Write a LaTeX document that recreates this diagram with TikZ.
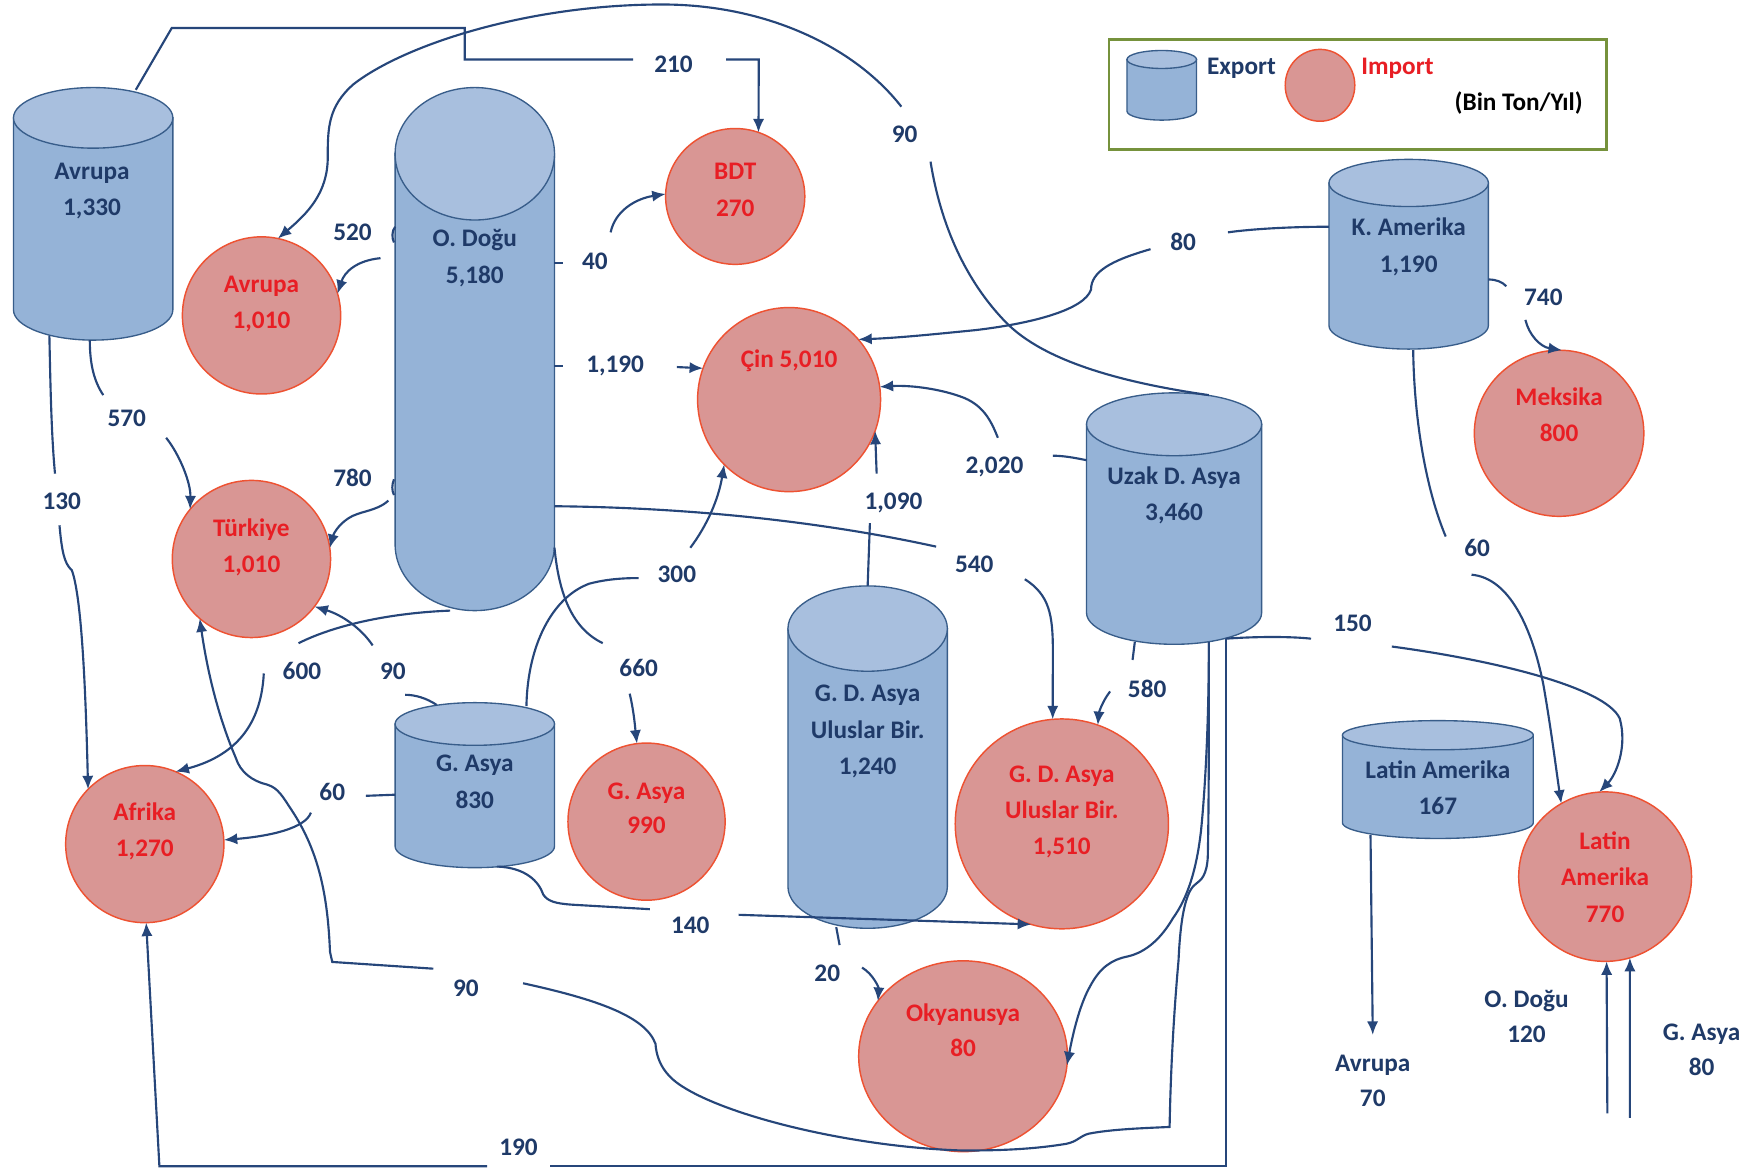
\documentclass[tikz,border=0pt]{standalone}
\usepackage{fontspec}
\setmainfont{Carlito}
\usetikzlibrary{shapes.geometric,arrows.meta,calc}
\definecolor{linec}{RGB}{38,70,122}
\definecolor{navytext}{RGB}{31,58,104}
\definecolor{cylbody}{RGB}{149,179,215}
\definecolor{cyltop}{RGB}{168,191,222}
\definecolor{cylborder}{RGB}{56,93,138}
\definecolor{impfill}{RGB}{217,150,148}
\definecolor{impborder}{RGB}{238,82,50}
\definecolor{imptext}{RGB}{232,30,36}
\definecolor{legborder}{RGB}{118,146,60}
% #1 name, #2 cx, #3 top-ellipse centre y, #4 bottom-ellipse centre y, #5 rx, #6 ry top, #7 ry bottom
\newcommand\excyl[7]{%
  \pgfmathsetmacro\cyXL{#2-#5}%
  \pgfmathsetmacro\cyXR{#2+#5}%
  \pgfmathsetmacro\cyKX{0.5523*#5}%
  \pgfmathsetmacro\cyKY{0.5523*#7}%
  \pgfmathsetmacro\cyYB{#4+#7}%
  \pgfmathsetmacro\cyYT{#3-#6}%
  \pgfmathsetmacro\cyW{2*#5}%
  \pgfmathsetmacro\cyH{\cyYB-\cyYT}%
  \pgfmathsetmacro\cyYM{(\cyYB+\cyYT)/2}%
  \filldraw[cylb] (\cyXL,#3) -- (\cyXL,#4) .. controls (\cyXL,#4+\cyKY) and (#2-\cyKX,\cyYB) .. (#2,\cyYB) .. controls (#2+\cyKX,\cyYB) and (\cyXR,#4+\cyKY) .. (\cyXR,#4) -- (\cyXR,#3) -- cycle;
  \filldraw[cylt] (#2,#3) ellipse [x radius=#5pt, y radius=#6pt];
  \node[inner sep=0pt, outer sep=0pt, minimum width=\cyW pt, minimum height=\cyH pt] (#1) at (#2,\cyYM) {};
}
\begin{document}
\begin{tikzpicture}[x=1pt,y=-1pt,
  cylb/.style={fill=cylbody, draw=cylborder, line width=1.2pt},
  cylt/.style={fill=cyltop, draw=cylborder, line width=1.2pt},
  con/.style={draw=linec, line width=1.9pt},
  arr/.style={con, -{Latex[length=12pt,width=10pt]}},
  imp/.style={ellipse, draw=impborder, line width=1.3pt, fill=impfill, inner sep=0pt, outer sep=0pt},
  lbl/.style={font=\bfseries\fontsize{22.5}{27}\selectfont, text=navytext, anchor=base, inner sep=0pt},
  ilbl/.style={lbl, text=imptext},
  klbl/.style={lbl, text=black},
]
\fill[white] (0,0) rectangle (1568,1041);
\useasboundingbox (0,0) rectangle (1568,1041);

% ---------- legend ----------
\draw[draw=legborder, line width=2.6pt] (988,35) rectangle (1431,133);
\excyl{legE}{1035}{53}{99}{31}{8}{8}
\node[imp, minimum width=62pt, minimum height=64pt] (legI) at (1176,76) {};
\node[lbl] (legEt) at (1106,66) {Export};
\node[ilbl] (legIt) at (1245,66) {Import};
\node[klbl] (legU) at (1353,98) {(Bin Ton/Yıl)};

% ---------- export cylinders ----------
\excyl{avrE}{83}{105}{276}{71}{27}{27}
\excyl{odog}{423}{137}{485}{71}{59}{59}
\excyl{kam}{1255}{163}{290}{71}{21}{21}
\excyl{uzak}{1046}{378}{546}{78}{28}{28}
\excyl{gasE}{423}{645}{754}{71}{19}{19}
\excyl{gdaE}{773}{560}{790}{71}{38}{37}
\excyl{latE}{1281}{655}{733}{85}{13}{14}

\node[lbl] (avrEa) at (82,160) {Avrupa};
\node[lbl] (avrEb) at (82,192) {1,330};
\node[lbl] (odoga) at (423,220) {O. Doğu};
\node[lbl] (odogb) at (423,253) {5,180};
\node[lbl] (kama) at (1255,210) {K. Amerika};
\node[lbl] (kamb) at (1255,243) {1,190};
\node[lbl] (uzaka) at (1046,432) {Uzak D. Asya};
\node[lbl] (uzakb) at (1046,464) {3,460};
\node[lbl] (gasEa) at (423,687) {G. Asya};
\node[lbl] (gasEb) at (423,720) {830};
\node[lbl] (gdaEa) at (773,625) {G. D. Asya};
\node[lbl] (gdaEb) at (773,658) {Uluslar Bir.};
\node[lbl] (gdaEc) at (773,690) {1,240};
\node[lbl] (latEa) at (1281,694) {Latin Amerika};
\node[lbl] (latEb) at (1281,726) {167};

% ---------- import circles ----------
\node[imp, minimum width=124pt, minimum height=121pt] (bdt) at (655,175) {};
\node[imp, minimum width=141pt, minimum height=140pt] (avrI) at (233,281) {};
\node[imp, minimum width=163pt, minimum height=164pt] (cin) at (703,356) {};
\node[imp, minimum width=141pt, minimum height=140pt] (tur) at (224,498) {};
\node[imp, minimum width=151pt, minimum height=148pt] (mek) at (1389,386) {};
\node[imp, minimum width=141pt, minimum height=140pt] (afr) at (129,752) {};
\node[imp, minimum width=140pt, minimum height=140pt] (gasI) at (576,732) {};
\node[imp, minimum width=190pt, minimum height=187pt] (gdaI) at (946,734) {};
\node[imp, minimum width=186pt, minimum height=170pt] (oky) at (858,941) {};
\node[imp, minimum width=154pt, minimum height=151pt] (latI) at (1430,781) {};

\node[ilbl] (bdta) at (655,160) {BDT};
\node[ilbl] (bdtb) at (655,193) {270};
\node[ilbl] (avrIa) at (233,261) {Avrupa};
\node[ilbl] (avrIb) at (233,293) {1,010};
\node[ilbl] (cina) at (703,327) {Çin 5,010};
\node[ilbl] (tura) at (224,478) {Türkiye};
\node[ilbl] (turb) at (224,510) {1,010};
\node[ilbl] (meka) at (1389,361) {Meksika};
\node[ilbl] (mekb) at (1389,393) {800};
\node[ilbl] (afra) at (129,731) {Afrika};
\node[ilbl] (afrb) at (129,763) {1,270};
\node[ilbl] (gasIa) at (576,712) {G. Asya};
\node[ilbl] (gasIb) at (576,743) {990};
\node[ilbl] (gdaIa) at (946,697) {G. D. Asya};
\node[ilbl] (gdaIb) at (946,729) {Uluslar Bir.};
\node[ilbl] (gdaIc) at (946,761) {1,510};
\node[ilbl] (okya) at (858,910) {Okyanusya};
\node[ilbl] (okyb) at (858,941) {80};
\node[ilbl] (latIa) at (1430,757) {Latin};
\node[ilbl] (latIb) at (1430,789) {Amerika};
\node[ilbl] (latIc) at (1430,822) {770};

% ---------- free labels ----------
\node[lbl] (fAvr) at (1223,955) {Avrupa};
\node[lbl] (fAvrn) at (1223,986) {70};
\node[lbl] (fOd) at (1360,898) {O. Doğu};
\node[lbl] (fOdn) at (1360,929) {120};
\node[lbl] (fGa) at (1516,927) {G. Asya};
\node[lbl] (fGan) at (1516,958) {80};

% ---------- number labels ----------
\node[lbl] (n210) at (600,65) {210};
\node[lbl] (n90a) at (806,127) {90};
\node[lbl] (n520) at (314,214) {520};
\node[lbl] (n40) at (530,240) {40};
\node[lbl] (n80) at (1054,223) {80};
\node[lbl] (n740) at (1375,272) {740};
\node[lbl] (n1190) at (548,332) {1,190};
\node[lbl] (n570) at (113,380) {570};
\node[lbl] (n780) at (314,433) {780};
\node[lbl] (n130) at (55,454) {130};
\node[lbl] (n2020) at (886,422) {2,020};
\node[lbl] (n1090) at (796,454) {1,090};
\node[lbl] (n60a) at (1316,496) {60};
\node[lbl] (n540) at (868,510) {540};
\node[lbl] (n300) at (603,519) {300};
\node[lbl] (n150) at (1205,563) {150};
\node[lbl] (n600) at (269,605) {600};
\node[lbl] (n90b) at (350,605) {90};
\node[lbl] (n660) at (569,603) {660};
\node[lbl] (n580) at (1022,621) {580};
\node[lbl] (n60b) at (296,713) {60};
\node[lbl] (n140) at (615,832) {140};
\node[lbl] (n20) at (737,874) {20};
\node[lbl] (n90c) at (415,888) {90};
\node[lbl] (n190) at (462,1029) {190};

% ---------- connectors ----------
% Avrupa -> BDT 210
\draw[con] (121,80) -- (153,25) -- (414,25) -- (414,53) -- (564,53);
\draw[arr] (647,53) -- (676,53) -- (bdt.70);
% Uzak D. Asya -> Avrupa 90
\draw[con] (1077,352) .. controls (1000,341) and (930,322) .. (896,287) .. controls (860,250) and (838,200) .. (829,144);
\draw[arr] (803,95) .. controls (760,40) and (680,4) .. (590,4) .. controls (470,4) and (360,40) .. (315,75) .. controls (292,95) and (292,115) .. (292,140) .. controls (292,172) and (274,190) .. (avrI.78);
% O. Dogu -> Avrupa 520
\draw[con] (352,202) .. controls (349,206) and (349,212) .. (351,216);
\draw[arr] (339,230) .. controls (318,232) and (307,242) .. (avrI.16);
% O. Dogu -> BDT 40
\draw[con] (494,234) -- (502,234);
\draw[arr] (544,207) .. controls (548,188) and (566,177) .. (bdt.178);
% O. Dogu -> Cin 1,190
\draw[con] (494,326) -- (502,326);
\draw[arr] (603,327) -- (cin.160);
% K. Amerika -> Cin 80
\draw[con] (1184,202) .. controls (1150,202) and (1115,204) .. (1094,207);
\draw[arr] (1025,222) .. controls (990,232) and (972,242) .. (972,258) .. controls (966,276) and (920,288) .. (870,294) .. controls (830,298) and (800,301) .. (cin.41);
% Uzak -> Cin 2,020
\draw[con] (968,410) .. controls (958,408) and (948,406) .. (938,406);
\draw[arr] (889,390) .. controls (883,375) and (876,360) .. (855,353) .. controls (835,346) and (810,343) .. (cin.8);
% G. D. Asya -> Cin 1,090
\draw[con] (773,522) -- (775,466);
\draw[arr] (781,422) -- (cin.-20);
% G. Asya -> Cin 300
\draw[con] (469,629) .. controls (470,575) and (492,532) .. (525,520) .. controls (540,516) and (555,515) .. (569,515);
\draw[arr] (615,488) .. controls (630,468) and (640,445) .. (cin.225);
% O. Dogu -> G. D. Asya 540
\draw[con] (494,451) .. controls (600,452) and (720,462) .. (834,487);
\draw[arr] (913,516) .. controls (935,530) and (938,548) .. (938,580) -- (gdaI.95);
% O. Dogu -> G. Asya 660
\draw[con] (494,488) .. controls (498,530) and (510,560) .. (537,573);
\draw[arr] (561,618) .. controls (565,635) and (566,650) .. (gasI.97);
% Uzak -> G. D. Asya 580
\draw[con] (1011,572) -- (1009,588);
\draw[arr] (989,616) .. controls (982,625) and (979,635) .. (gdaI.70);
% Uzak -> Latin Amerika 150
\draw[con] (1092,569) .. controls (1120,567) and (1150,567) .. (1168,569);
\draw[arr] (1240,576) .. controls (1330,588) and (1430,612) .. (1443,640) .. controls (1450,665) and (1440,690) .. (latI.94);
% K. Amerika -> Latin Amerika 60
\draw[con] (1259,312) .. controls (1260,380) and (1272,440) .. (1288,478);
\draw[arr] (1311,512) .. controls (1345,515) and (1365,560) .. (1375,610) .. controls (1382,650) and (1387,690) .. (latI.121);
% K. Amerika -> Meksika 740
\draw[con] (1326,249) .. controls (1333,249) and (1338,251) .. (1342,255);
\draw[arr] (1359,285) .. controls (1362,298) and (1372,309) .. (mek.88);
% Avrupa -> Turkiye 570
\draw[con] (80,303) .. controls (80,325) and (84,340) .. (92,352);
\draw[arr] (148,390) .. controls (160,405) and (170,430) .. (tur.141);
% Avrupa -> Afrika 130
\draw[con] (44,299) .. controls (45,350) and (46,390) .. (49,422);
\draw[arr] (53,468) .. controls (55,490) and (57,502) .. (64,508) .. controls (72,530) and (76,600) .. (afr.136);
% O. Dogu -> Turkiye 780
\draw[con] (351,427) .. controls (349,432) and (349,437) .. (351,441);
\draw[arr] (346,446) .. controls (335,456) and (320,455) .. (310,462) .. controls (301,468) and (297,476) .. (tur.8);
% O. Dogu -> Afrika 600
\draw[con] (401,544) .. controls (350,546) and (300,556) .. (266,573);
\draw[arr] (235,600) .. controls (233,640) and (215,672) .. (afr.67);
% G. Asya -> Turkiye 90
\draw[con] (389,628) .. controls (380,622) and (370,619) .. (361,619);
\draw[arr] (332,575) .. controls (322,560) and (305,548) .. (tur.-37);
% G. Asya -> Afrika 60
\draw[con] (352,708) -- (326,709);
\draw[arr] (277,724) .. controls (272,738) and (240,745) .. (afr.3);
% Uzak -> Turkiye 90 (bottom)
\draw[con] (1077,572) .. controls (1077,650) and (1077,720) .. (1076,764) .. controls (1075,780) and (1070,784) .. (1066,787) .. controls (1058,792) and (1052,810) .. (1050,855) .. controls (1046,900) and (1043,950) .. (1042,1004) .. controls (1020,1005) and (990,1006) .. (970,1010) .. controls (962,1012) and (960,1017) .. (950,1019) .. controls (920,1024) and (890,1025) .. (858,1025) .. controls (760,1022) and (650,995) .. (608,968) .. controls (592,958) and (585,945) .. (584,930) .. controls (575,905) and (530,890) .. (466,876);
\draw[arr] (386,863) -- (296,857) -- (294,848) .. controls (292,800) and (285,760) .. (260,722) .. controls (252,710) and (248,702) .. (238,699) .. controls (225,696) and (214,688) .. (210,675) .. controls (195,640) and (185,600) .. (tur.-131);
% Uzak -> Afrika 190
\draw[con] (1092,569) -- (1092,1039) -- (490,1039);
\draw[arr] (434,1039) -- (142,1039) -- (afr.-89);
% Uzak -> Okyanusya
\draw[arr] (1077,572) .. controls (1077,640) and (1074,700) .. (1070,740) .. controls (1066,775) and (1058,800) .. (1045,818) .. controls (1035,835) and (1022,848) .. (1005,852) .. controls (990,855) and (980,862) .. (971,879) .. controls (962,895) and (956,920) .. (oky.-5);
% G. Asya -> G. D. Asya 140
\draw[con] (443,772) .. controls (468,773) and (480,785) .. (484,797) .. controls (488,803) and (495,805) .. (510,806) -- (579,810);
\draw[arr] (658,815) -- (gdaI.-107);
% G. D. Asya -> Okyanusya 20
\draw[con] (745,826) -- (748,842);
\draw[arr] (768,862) .. controls (778,868) and (783,880) .. (oky.147);
% Latin Amerika -> Avrupa 70
\draw[arr] (1221,744) -- (fAvr.north |- 0,922);
% O. Dogu 120, G. Asya 80 -> Latin Amerika
\draw[arr] (1432,992) -- (latI.-89);
\draw[arr] (1452,996) -- (latI.-73);
\end{tikzpicture}
\end{document}
